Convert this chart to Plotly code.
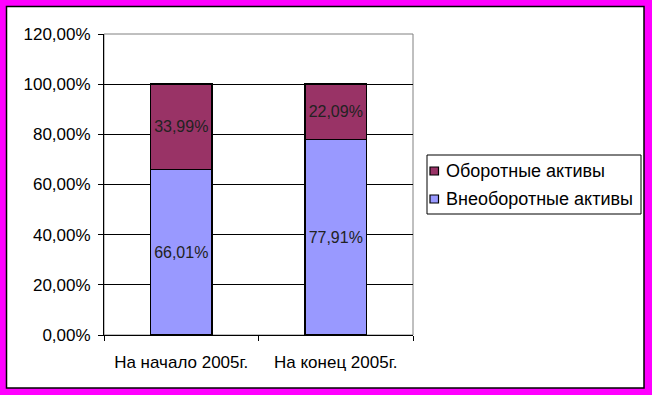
import plotly.graph_objects as go

categories = ["На начало 2005г.", "На конец 2005г."]
vneoborotnye = [0.6601, 0.7791]
oborotnye = [0.3399, 0.2209]
series_names = ["Внеоборотные активы", "Оборотные активы"]
series_colors = ["#9999FF", "#993366"]
y_ticks = [0, 0.2, 0.4, 0.6, 0.8, 1.0, 1.2]

W, H = 652, 395
L, R, T, B = 104, 413, 34, 335
pw, ph = R - L, B - T


def px_x(p):
    return (p - L) / pw


def px_y(p):
    return (B - p) / ph


font = "Arial, Liberation Sans, sans-serif"

fig = go.Figure()
for name, vals, col in zip(series_names, [vneoborotnye, oborotnye], series_colors):
    fig.add_trace(go.Bar(
        x=categories, y=vals, name=name,
        marker=dict(color=col, line=dict(color="black", width=1.5)),
        width=0.4, texttemplate="%{y:.2%}", textposition="inside",
        insidetextanchor="middle", textfont=dict(family=font, size=16, color="#222"),
        showlegend=False,
    ))

shapes = [
    dict(type="rect", xref="paper", yref="paper",
         x0=px_x(6.5), x1=px_x(644), y0=px_y(388), y1=px_y(6.5),
         fillcolor="white", line=dict(color="black", width=1.5), layer="below"),
    dict(type="rect", xref="paper", yref="paper",
         x0=0, x1=1, y0=0, y1=1,
         fillcolor="rgba(0,0,0,0)", line=dict(color="#808080", width=1), layer="below"),
    # legend box
    dict(type="rect", xref="paper", yref="paper",
         x0=px_x(427), x1=px_x(641), y0=px_y(214), y1=px_y(155),
         fillcolor="white", line=dict(color="black", width=1), layer="above"),
]
annotations = []
legend_rows = [(series_names[1], series_colors[1], 171), (series_names[0], series_colors[0], 199)]
for name, col, cy in legend_rows:
    shapes.append(dict(type="rect", xref="paper", yref="paper",
                       x0=px_x(430), x1=px_x(438.5), y0=px_y(cy + 4), y1=px_y(cy - 4),
                       fillcolor=col, line=dict(color="black", width=1.2), layer="above"))
    annotations.append(dict(xref="paper", yref="paper", x=px_x(444), y=px_y(cy),
                            xanchor="left", yanchor="middle", showarrow=False,
                            text=name, font=dict(family=font, size=18, color="black")))

fig.update_layout(
    width=W, height=H, barmode="stack",
    separators=", ",
    paper_bgcolor="#FF00FF", plot_bgcolor="white",
    margin=dict(l=L, r=W - R, t=T, b=H - B, pad=0),
    font=dict(family=font, size=17, color="black"),
    showlegend=False,
    shapes=shapes,
    annotations=annotations,
)
fig.update_xaxes(
    type="category", tickson="boundaries", ticks="outside", ticklen=5,
    tickcolor="black", showline=True, linecolor="black", linewidth=1,
    showgrid=False, tickfont=dict(size=17, color="black"), ticklabelstandoff=12,
)
fig.update_yaxes(
    range=[0, 1.2], tickvals=y_ticks, tickformat=".2%", ticks="outside", ticklen=5,
    tickcolor="black", showline=True, linecolor="black", linewidth=1,
    showgrid=True, gridcolor="black", gridwidth=1, zeroline=False,
    tickfont=dict(size=17, color="black"), ticklabelstandoff=4,
)

fig.write_html(
    "out.html",
    config={"displayModeBar": False},
    post_script="document.body.style.margin='0';document.body.style.background='#FF00FF';",
)
